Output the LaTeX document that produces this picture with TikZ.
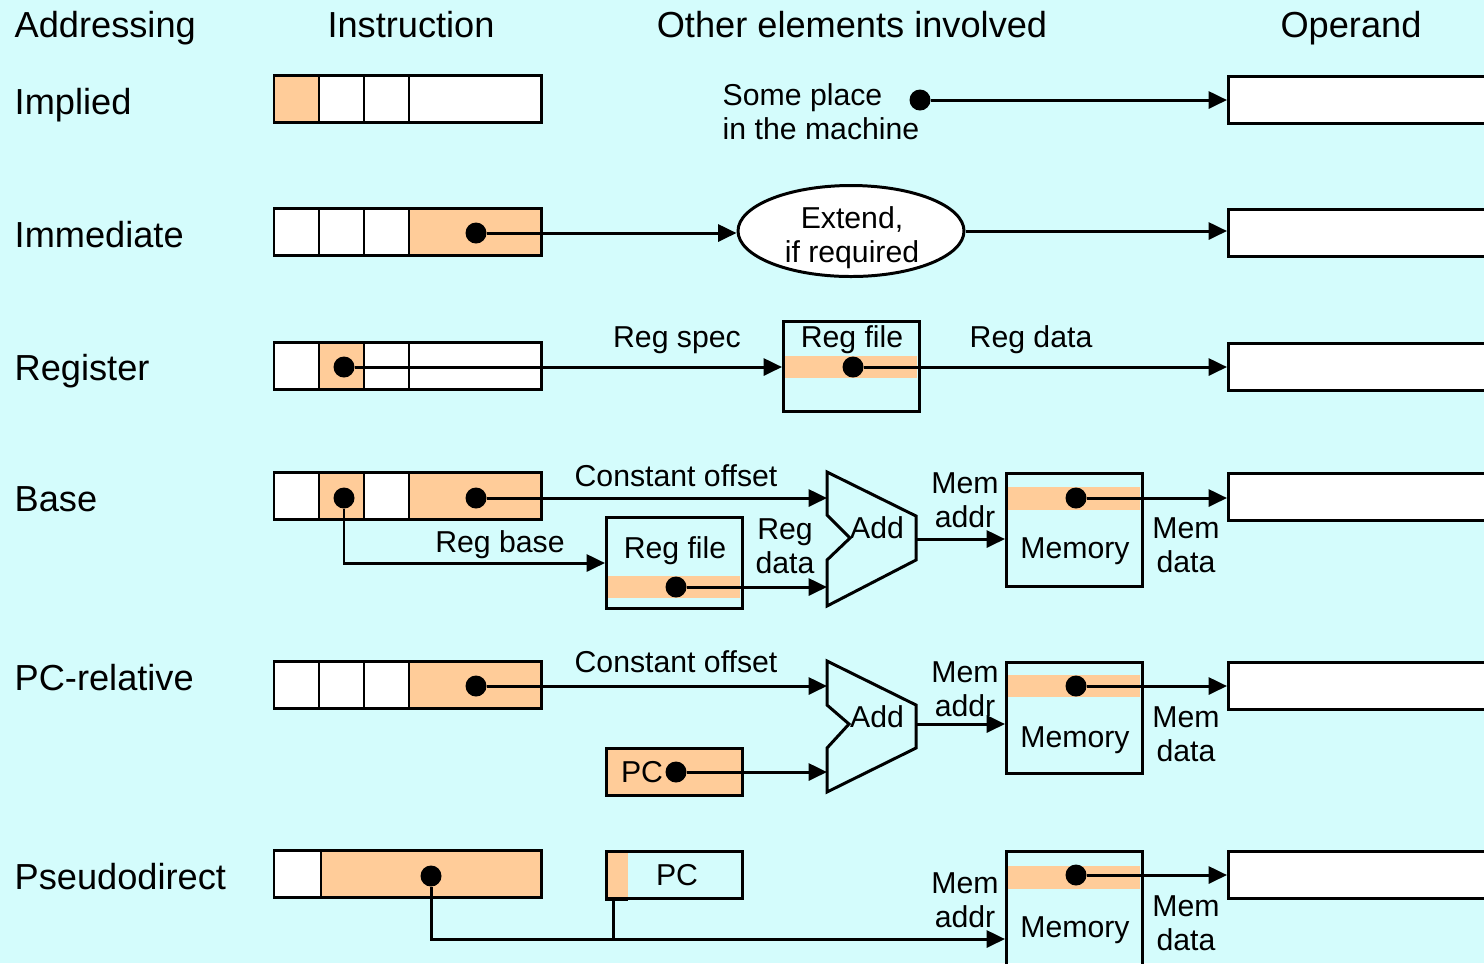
\documentclass[tikz,border=0pt]{standalone}
\usepackage{fontspec}
\setmainfont{Liberation Sans}
\usetikzlibrary{arrows.meta,shapes.geometric}

\definecolor{bgcyan}{RGB}{212,252,252}
\definecolor{fieldor}{RGB}{255,204,153}

\begin{document}
\begin{tikzpicture}[
    wire/.style={line width=0.85pt},
    arr/.style={wire, -{Triangle[length=5.2pt,width=4.8pt]}},
    cell/.style={wire, draw, fill=white},
    box/.style={wire, draw, rectangle, inner sep=0pt, minimum width=1.36cm},
    dot/.style={circle, fill=black, inner sep=0pt, minimum size=0.21cm},
    head/.style={font=\fontsize{10.3}{12}\selectfont, inner sep=0pt, text height=7.5pt, text depth=0pt},
    lab/.style={font=\fontsize{8.6}{9.7}\selectfont, inner sep=0pt, align=center},
]
    \useasboundingbox (0,0) rectangle (14.84,-9.63);
    \fill[bgcyan] (0,0) rectangle (14.84,-9.63);

    % column titles
    \node[head, anchor=west] (hadr) at (0.14,-0.24) {Addressing};
    \node[head] (hins) at (4.11,-0.24) {Instruction};
    \node[head] (hoth) at (8.52,-0.24) {Other elements involved};
    \node[head] (hopd) at (13.51,-0.24) {Operand};

    % mode names
    \foreach \lbl/\y [count=\i] in {Implied/1.01, Immediate/2.34, Register/3.67, Base/4.98, PC-relative/6.77, Pseudodirect/8.76}
        \node[head, anchor=west] (mode\i) at (0.14,-\y) {\lbl};

    % instruction words
    \foreach \y/\fa/\fb/\fc/\fd in {0.75/fieldor/white/white/white, 2.08/white/white/white/fieldor, 3.42/white/fieldor/white/white, 4.72/white/fieldor/white/fieldor, 6.61/white/white/white/fieldor} {
        \draw[cell, fill=\fa] (2.74,-\y) rectangle ++(0.45,-0.47);
        \draw[cell, fill=\fb] (3.19,-\y) rectangle ++(0.45,-0.47);
        \draw[cell, fill=\fc] (3.64,-\y) rectangle ++(0.45,-0.47);
        \draw[cell, fill=\fd] (4.09,-\y) rectangle ++(1.32,-0.47);
    }
    \draw[cell] (2.74,-8.50) rectangle ++(0.47,-0.47);
    \draw[cell, fill=fieldor] (3.21,-8.50) rectangle ++(2.20,-0.47);

    % operand boxes, running off the right edge
    \foreach \y [count=\i] in {0.75,2.08,3.42,4.72,6.61,8.50}
        \node[box, fill=white, anchor=north west, minimum width=3cm, minimum height=0.47cm] (op\i) at (12.27,-\y) {};

    % implied
    \node[lab, anchor=west, align=left] (place) at (7.22,-1.12) {Some place\\in the machine};
    \node[dot] (dimp) at (9.20,-1.00) {};
    \draw[arr] (dimp) -- (dimp -| op1.west);

    % immediate
    \node[dot] (dimm) at (4.76,-2.33) {};
    \node[ellipse, draw, wire, fill=white, minimum width=2.26cm, minimum height=0.91cm, inner sep=0pt] (ext) at (8.51,-2.31) {};
    \node[lab] (extt) at (8.52,-2.38) {Extend,\\if required};
    \draw[arr] (dimm) -- (dimm -| ext.west);
    \draw[arr] (ext.east) -- (ext.east -| op2.west);

    % register
    \fill[fieldor] (7.83,-3.56) rectangle (9.17,-3.78);
    \node[box, minimum height=0.90cm, anchor=north west] (rf1) at (7.82,-3.20) {};
    \node[lab] (rf1t) at (8.52,-3.40) {Reg file};
    \node[dot] (dreg) at (3.44,-3.67) {};
    \node[dot] (drf1) at (8.53,-3.67) {};
    \draw[arr] (dreg) -- (dreg -| rf1.west);
    \node[lab] (rspec) at (6.77,-3.40) {Reg spec};
    \draw[arr] (drf1) -- (drf1 -| op3.west);
    \node[lab] (rdata) at (10.31,-3.40) {Reg data};

    % base
    \node[dot] (dbreg) at (3.44,-4.98) {};
    \node[dot] (dboff) at (4.76,-4.98) {};
    \fill[fieldor] (6.06,-5.76) rectangle (7.40,-5.98);
    \node[box, minimum height=0.91cm, anchor=north west] (rf2) at (6.05,-5.16) {};
    \node[lab] (rf2t) at (6.75,-5.51) {Reg file};
    \node[dot] (drf2) at (6.76,-5.87) {};
    \begin{scope}[shift={(8.27,-4.72)}]
        \draw[wire] (0,0) -- (0.89,-0.44) -- (0.89,-0.88) -- (0,-1.34) -- (0,-0.88) -- (0.23,-0.66) -- (0,-0.43) -- cycle;
        \node[lab] (add1) at (0.50,-0.56) {Add};
        \coordinate (add1a) at (0,-0.24);
        \coordinate (add1b) at (0,-1.13);
        \coordinate (add1o) at (0.89,-0.67);
    \end{scope}
    \fill[fieldor] (10.06,-4.87) rectangle (11.40,-5.10);
    \node[box, minimum height=1.13cm, anchor=north west] (mem1) at (10.05,-4.72) {};
    \node[lab] (mem1t) at (10.75,-5.51) {Memory};
    \node[dot] (dmem1) at (10.76,-4.98) {};

    \draw[arr] (dboff) -- (dboff -| add1a);
    \node[lab] (boff) at (6.76,-4.76) {Constant offset};
    \draw[arr] (dbreg) |- (rf2.west);
    \node[lab] (bbase) at (5.00,-5.45) {Reg base};
    \draw[arr] (drf2) -- (drf2 -| add1b);
    \node[lab] (bdata) at (7.85,-5.46) {Reg\\data};
    \draw[arr] (add1o) -- (add1o -| mem1.west);
    \node[lab] (baddr) at (9.65,-5.00) {Mem\\addr};
    \draw[arr] (dmem1) -- (dmem1 -| op4.west);
    \node[lab] (bmdata) at (11.86,-5.45) {Mem\\data};

    % pc-relative
    \node[dot] (dpoff) at (4.76,-6.86) {};
    \node[box, fill=fieldor, minimum height=0.47cm, anchor=north west] (pc1) at (6.05,-7.47) {};
    \node[lab] (pc1t) at (6.42,-7.72) {PC};
    \node[dot] (dpc) at (6.76,-7.72) {};
    \begin{scope}[shift={(8.27,-6.61)}]
        \draw[wire] (0,0) -- (0.89,-0.44) -- (0.89,-0.87) -- (0,-1.31) -- (0,-0.87) -- (0.22,-0.63) -- (0,-0.44) -- cycle;
        \node[lab] (add2) at (0.50,-0.56) {Add};
        \coordinate (add2a) at (0,-0.24);
        \coordinate (add2b) at (0,-1.10);
        \coordinate (add2o) at (0.89,-0.63);
    \end{scope}
    \fill[fieldor] (10.06,-6.75) rectangle (11.40,-6.97);
    \node[box, minimum height=1.11cm, anchor=north west] (mem2) at (10.05,-6.61) {};
    \node[lab] (mem2t) at (10.75,-7.40) {Memory};
    \node[dot] (dmem2) at (10.76,-6.86) {};

    \draw[arr] (dpoff) -- (dpoff -| add2a);
    \node[lab] (poff) at (6.76,-6.62) {Constant offset};
    \draw[arr] (dpc) -- (dpc -| add2b);
    \draw[arr] (add2o) -- (add2o -| mem2.west);
    \node[lab] (paddr) at (9.65,-6.89) {Mem\\addr};
    \draw[arr] (dmem2) -- (dmem2 -| op5.west);
    \node[lab] (pmdata) at (11.86,-7.34) {Mem\\data};

    % pseudodirect
    \node[dot] (dps) at (4.31,-8.76) {};
    \fill[fieldor] (6.05,-8.50) rectangle (6.28,-8.97);
    \node[box, minimum height=0.47cm, anchor=north west, lab] (pc2) at (6.05,-8.50) {\hspace{0.05cm}PC};
    \draw[line width=1.3pt] (6.05,-8.99) -- (6.28,-8.99);
    \coordinate (jpc) at (6.13,-9.39);
    \draw[wire] (jpc |- pc2.south) -- (jpc);
    \fill[fieldor] (10.06,-8.66) rectangle (11.40,-8.89);
    \node[box, minimum height=1.30cm, anchor=north west] (mem3) at (10.05,-8.50) {};
    \node[lab] (mem3t) at (10.75,-9.30) {Memory};
    \node[dot] (dmem3) at (10.76,-8.75) {};

    \draw[arr] (dps) |- (jpc) -- (jpc -| mem3.west);
    \node[lab] (saddr) at (9.65,-9.00) {Mem\\addr};
    \draw[arr] (dmem3) -- (dmem3 -| op6.west);
    \node[lab] (smdata) at (11.86,-9.23) {Mem\\data};
\end{tikzpicture}
\end{document}
